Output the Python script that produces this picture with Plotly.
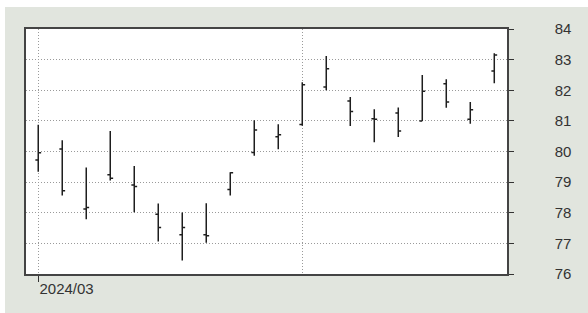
import plotly.graph_objects as go

# x positions (bar index), one per period
periods = list(range(20))
tick_positions = [0]
tick_labels = ["2024/03"]
extra_grid_positions = [11]

opens = [79.72, 80.08, 78.12, 79.24, 78.91, 77.95, 77.28, 77.28, 78.76, 79.97,
         80.48, 80.88, 82.11, 81.65, 81.07, 81.26, 81.00, 82.21, 81.05, 82.63]
highs = [80.87, 80.37, 79.48, 80.67, 79.53, 78.30, 78.01, 78.31, 79.32, 81.02,
         80.89, 82.26, 83.12, 81.78, 81.38, 81.44, 82.50, 82.36, 81.62, 83.21]
lows = [79.34, 78.56, 77.79, 79.05, 78.02, 77.06, 76.44, 77.02, 78.56, 79.86,
        80.07, 80.84, 82.00, 80.83, 80.30, 80.47, 81.00, 81.43, 80.91, 82.23]
closes = [79.96, 78.72, 78.17, 79.13, 78.86, 77.52, 77.52, 77.25, 79.31, 80.70,
          80.55, 82.18, 82.70, 81.31, 81.05, 80.67, 81.97, 81.62, 81.36, 83.15]

bar_color = "#1e1e1e"
bg_grey = "#e1e5de"
text_color = "#333333"
grid_color = "#9a9a9a"
font_family = "Liberation Sans, Arial, sans-serif"

fig = go.Figure(
    go.Ohlc(
        x=periods, open=opens, high=highs, low=lows, close=closes,
        increasing=dict(line=dict(color=bar_color, width=1.5)),
        decreasing=dict(line=dict(color=bar_color, width=1.5)),
        tickwidth=0.12,
        hoverinfo="skip",
        showlegend=False,
    )
)

W, H = 588, 313
ml, mr, mt, mb = 26, 81, 29, 39
pw, ph = W - ml - mr, H - mt - mb

fig.update_layout(
    width=W, height=H,
    margin=dict(l=ml, r=mr, t=mt, b=mb, pad=0),
    paper_bgcolor=bg_grey,
    plot_bgcolor="white",
    font=dict(family=font_family, size=15, color=text_color),
    showlegend=False,
    xaxis=dict(
        range=[-0.51, 19.53],
        rangeslider=dict(visible=False),
        tickmode="array",
        tickvals=tick_positions,
        ticktext=tick_labels,
        ticks="outside", ticklen=6, tickcolor="#333", tickwidth=1,
        ticklabelposition="outside right",
        showgrid=True, gridcolor=grid_color, griddash="1px,2px", gridwidth=1,
        minor=dict(tickmode="array", tickvals=extra_grid_positions, showgrid=True,
                   gridcolor=grid_color, griddash="1px,2px", gridwidth=1, ticks=""),
        showline=True, linecolor="#444", linewidth=1.5, mirror=True,
        zeroline=False,
        fixedrange=True,
    ),
    yaxis=dict(
        range=[76, 84],
        side="right",
        tickmode="linear", tick0=76, dtick=1,
        ticks="outside", ticklen=5, tickcolor="#333", tickwidth=1,
        ticklabelstandoff=38,
        showgrid=True, gridcolor=grid_color, griddash="1px,2px", gridwidth=1,
        showline=True, linecolor="#444", linewidth=1.5, mirror=True,
        zeroline=False,
        fixedrange=True,
    ),
    shapes=[
        # white strip along the top edge of the page
        dict(type="rect", xref="paper", yref="paper",
             x0=-ml / pw - 0.01, x1=(W - ml) / pw + 0.01,
             y0=1 + (mt - 7) / ph, y1=1 + mt / ph + 0.01,
             fillcolor="white", line=dict(width=0), layer="below"),
        # white strip along the left edge of the page
        dict(type="rect", xref="paper", yref="paper",
             x0=-ml / pw - 0.01, x1=(5 - ml) / pw,
             y0=-mb / ph - 0.01, y1=1 + mt / ph + 0.01,
             fillcolor="white", line=dict(width=0), layer="below"),
    ],
)

fig.write_html("out.html", config={"displayModeBar": False},
               post_script="document.body.style.margin='0';")
